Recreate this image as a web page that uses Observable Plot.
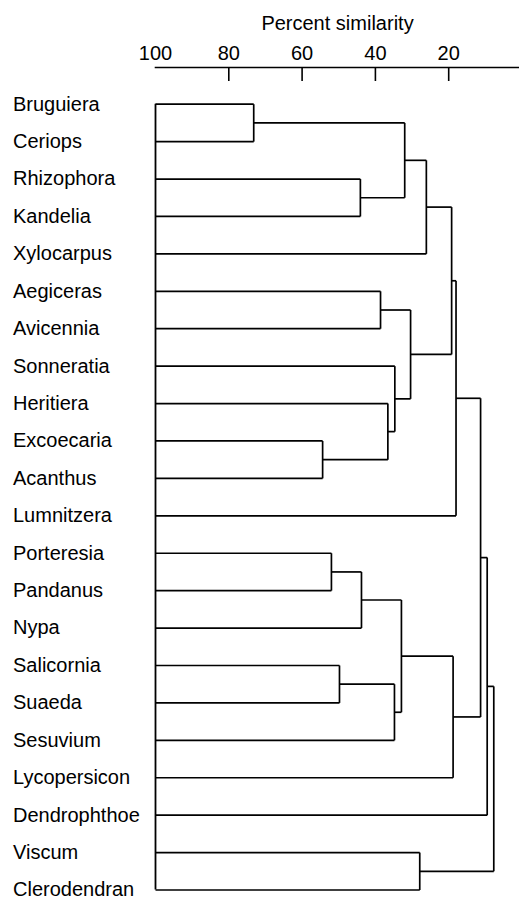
<!DOCTYPE html>
<html><head><meta charset="utf-8">
<script src="https://cdn.jsdelivr.net/npm/d3@7"></script>
<script src="https://cdn.jsdelivr.net/npm/@observablehq/plot@0.6"></script>
<style>body{margin:0;background:#fff}</style>
</head><body><div id="chart"></div>
<script>
const axisTitle = "Percent similarity";
const tickValues = [100, 80, 60, 40, 20];
const genera = ["Bruguiera", "Ceriops", "Rhizophora", "Kandelia", "Xylocarpus", "Aegiceras", "Avicennia", "Sonneratia", "Heritiera", "Excoecaria", "Acanthus", "Lumnitzera", "Porteresia", "Pandanus", "Nypa", "Salicornia", "Suaeda", "Sesuvium", "Lycopersicon", "Dendrophthoe", "Viscum", "Clerodendran"];
// agglomeration steps (merge mK joins mergeLeft[K] with mergeRight[K] at mergeSimilarity[K])
const mergeLeft = ["Bruguiera", "Rhizophora", "m0", "m2", "Aegiceras", "Excoecaria", "Heritiera", "Sonneratia", "m4", "m3", "m9", "Porteresia", "m11", "Salicornia", "m13", "m12", "m15", "m10", "m17", "Viscum", "m18"];
const mergeRight = ["Ceriops", "Kandelia", "m1", "Xylocarpus", "Avicennia", "Acanthus", "m5", "m6", "m7", "m8", "Lumnitzera", "Pandanus", "Nypa", "Suaeda", "Sesuvium", "m14", "Lycopersicon", "m16", "Dendrophthoe", "Clerodendran", "m19"];
const mergeSimilarity = [73.2, 44.1, 32.0, 26.1, 38.6, 54.4, 36.6, 34.7, 30.4, 19.2, 18.0, 52.0, 43.8, 49.8, 34.8, 32.9, 18.8, 11.3, 9.5, 27.9, 7.7];

// build elbow segments
const pos = new Map(), sim = new Map();
genera.forEach((g, i) => { pos.set(g, i); sim.set(g, 100); });
const segments = [];
mergeLeft.forEach((a, k) => {
  const b = mergeRight[k], h = mergeSimilarity[k], id = "m" + k;
  segments.push({x1: sim.get(a), x2: h, y1: pos.get(a), y2: pos.get(a)});
  segments.push({x1: sim.get(b), x2: h, y1: pos.get(b), y2: pos.get(b)});
  segments.push({x1: h, x2: h, y1: pos.get(a), y2: pos.get(b)});
  pos.set(id, (pos.get(a) + pos.get(b)) / 2);
  sim.set(id, h);
});

const W = 519, H = 900, mTop = 67, mLeft = 155;
const font = "'Liberation Sans', Arial, Helvetica, sans-serif";

const chart = Plot.plot({
  width: W, height: H,
  marginTop: mTop, marginLeft: mLeft, marginRight: 0, marginBottom: 0,
  style: {fontFamily: font, fontSize: "20px", background: "white", color: "black"},
  x: {domain: [100, 0], range: [mLeft, mLeft + 100 * 3.665]},
  y: {domain: [0, genera.length - 1], range: [103.7, 889.5], axis: null},
  marks: [
    Plot.frame({anchor: "top", stroke: "black", strokeWidth: 1.6}),
    Plot.ruleX(tickValues.slice(1), {stroke: "black", strokeWidth: 1.6, insetBottom: H - mTop - 14}),
    Plot.axisX(tickValues, {anchor: "top", tickSize: 0, tickPadding: 8, fontSize: 20, label: null, fill: "black"}),
    Plot.text([axisTitle], {frameAnchor: "top", dy: -38, fontSize: 20, lineAnchor: "bottom", fill: "black"}),
    Plot.ruleX([100], {y2: () => genera.length - 1, stroke: "black", strokeWidth: 1.8}),
    Plot.link(segments, {x1: "x1", y1: "y1", x2: "x2", y2: "y2", stroke: "black", strokeWidth: 1.7}),
    Plot.text(genera, {x: () => 100, y: (d, i) => i, text: d => d, textAnchor: "start", dx: -142.5, fontSize: 20, fill: "black"})
  ]
});
document.getElementById("chart").appendChild(chart);
</script>
</body></html>
